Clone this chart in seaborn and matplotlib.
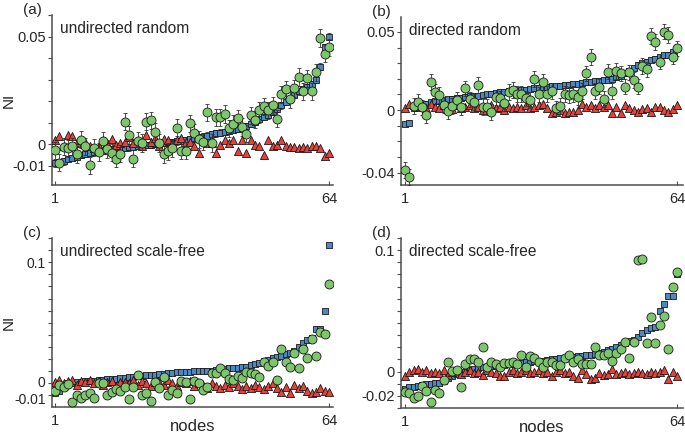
import numpy as np
import pandas as pd
import matplotlib
matplotlib.use("Agg")
import matplotlib.pyplot as plt
import matplotlib.transforms as mtransforms
from matplotlib.ticker import MultipleLocator
import seaborn as sns

sns.set_style("ticks")
plt.rcParams['font.family'] = ['Liberation Sans', 'DejaVu Sans']

nodes = list(range(1, 65))

# (a) undirected random
blue_a = [-0.009, -0.0085, -0.008, -0.007, -0.0065, -0.006, -0.005, -0.0045, -0.004, -0.0035,
          -0.003, -0.003, -0.0025, -0.0025, -0.002, -0.002, -0.0018, -0.0015, -0.0012, -0.001,
          -0.0008, -0.0005, -0.0003, 0.0, 0.0002, 0.0005, 0.0008, 0.001, 0.0013, 0.0016,
          0.002, 0.0023, 0.0027, 0.003, 0.0035, 0.004, 0.0045, 0.005, 0.0053, 0.0057,
          0.006, 0.0065, 0.007, 0.0077, 0.0085, 0.0095, 0.0105, 0.0115, 0.0125, 0.0135,
          0.015, 0.0165, 0.018, 0.0195, 0.021, 0.023, 0.0245, 0.0255, 0.0265, 0.028,
          0.030, 0.036, 0.045, 0.050]
green_a = [-0.0028, -0.0087, -0.0012, -0.002, -0.001, -0.0047, 0.002, -0.001, -0.0098, -0.0017,
           -0.0037, 0.0015, -0.0023, -0.004, -0.0068, -0.0045, 0.0104, 0.0042, -0.0068, 0.0015,
           0.0005, 0.0104, 0.011, 0.0057, 0.0005, -0.0047, -0.0033, -0.002, 0.0076, -0.003,
           -0.003, 0.0096, 0.0053, 0.0022, 0.0012, 0.0148, 0.0005, 0.0125, 0.0125, 0.014,
           0.0073, 0.0093, 0.012, 0.008, 0.0048, 0.0133, 0.0114, 0.0157, 0.0176, 0.0157,
           0.018, 0.0118, 0.0232, 0.0255, 0.021, 0.026, 0.0312, 0.0245, 0.0305, 0.0245,
           0.0333, 0.0493, 0.042, 0.045]
red_a = [0.002, 0.0039, -0.0011, 0.0044, 0.0036, 0.0005, 0.002, 0.0012, -0.0011, -0.0019,
         -0.0011, 0.002, 0.0005, 0.0023, -0.0003, 0.0005, 0.0012, 0.0033, 0.0005, 0.002,
         -0.0011, 0.0044, 0.0012, 0.0028, -0.0011, 0.0023, 0.002, 0.0005, 0.002, 0.0028,
         0.0012, 0.0012, -0.0011, -0.0042, 0.002, 0.0005, 0.0005, -0.0039, -0.0003, 0.002,
         0.0005, 0.002, -0.003, 0.002, -0.0042, 0.002, -0.0003, -0.0011, -0.005, 0.002,
         -0.0011, -0.0003, 0.002, -0.0011, -0.0014, -0.0014, -0.0019, -0.0014, -0.0019, -0.0011,
         -0.0011, -0.0019, -0.0055, -0.0042]

# (b) directed random
blue_b = [-0.009, -0.008, 0.001, 0.002, 0.003, 0.004, 0.005, 0.0055, 0.006, 0.0065,
          0.007, 0.0072, 0.0076, 0.008, 0.0085, 0.0088, 0.009, 0.0093, 0.0097, 0.01,
          0.0104, 0.011, 0.0113, 0.0116, 0.012, 0.0122, 0.0125, 0.0128, 0.013, 0.0135,
          0.014, 0.0143, 0.0146, 0.015, 0.0152, 0.0155, 0.0157, 0.016, 0.0163, 0.0166,
          0.017, 0.0173, 0.0177, 0.018, 0.0183, 0.0187, 0.019, 0.0195, 0.02, 0.021,
          0.022, 0.0235, 0.025, 0.027, 0.029, 0.030, 0.031, 0.032, 0.033, 0.034,
          0.035, 0.0355, 0.037, 0.040]
green_b = [-0.0385, -0.0427, 0.0026, 0.0053, 0.0017, -0.0032, 0.018, 0.0118, 0.0096, 0.0032,
           -0.0006, 0.0026, 0.0064, 0.0021, 0.0139, 0.0068, 0.0053, 0.016, 0.0021, 0.0021,
           -0.0011, 0.0081, 0.0075, 0.0047, 0.0115, 0.0128, 0.0103, 0.0103, 0.0075, 0.0064,
           0.0197, 0.01, 0.018, 0.0103, 0.0124, 0.0011, 0.0026, 0.0103, 0.0096, 0.0103,
           0.0081, 0.0124, 0.0235, 0.0338, 0.0124, 0.015, 0.007, 0.0246, 0.0124, 0.025,
           0.0235, 0.015, 0.0241, 0.0192, 0.015, 0.0282, 0.026, 0.0474, 0.0434, 0.031,
           0.0502, 0.048, 0.0342, 0.0395]
red_b = [0.001, 0.004, 0.003, 0.002, 0.003, 0.001, 0.004, 0.002, 0.001, 0.003,
         0.002, 0.0005, 0.003, 0.001, 0.002, 0.003, 0.001, 0.002, 0.0, 0.002,
         0.003, 0.001, 0.002, 0.0, 0.002, 0.001, 0.002, 0.001, 0.003, 0.0015,
         0.002, 0.003, 0.004, 0.001, -0.002, -0.001, 0.0, -0.002, -0.001, -0.0015,
         0.0, 0.004, 0.002, 0.003, 0.001, 0.003, 0.002, 0.003, -0.002, 0.002,
         -0.002, 0.0035, 0.001, 0.0, -0.001, 0.0005, 0.001, -0.001, 0.002, 0.002,
         0.0, -0.001, 0.0005, 0.003]

# (c) undirected scale-free
blue_c = [-0.008, -0.006, -0.003, 0.0, 0.0005, 0.001, 0.0013, 0.0016, 0.002, 0.0023,
          0.0027, 0.003, 0.0033, 0.0036, 0.004, 0.0043, 0.0047, 0.005, 0.0055, 0.006,
          0.0063, 0.0067, 0.007, 0.0073, 0.0077, 0.008, 0.0083, 0.0087, 0.009, 0.0095,
          0.0097, 0.0098, 0.0099, 0.01, 0.0101, 0.0102, 0.0105, 0.011, 0.0115, 0.012,
          0.0124, 0.0128, 0.013, 0.0133, 0.0138, 0.015, 0.0157, 0.017, 0.0185, 0.0196,
          0.021, 0.022, 0.023, 0.024, 0.025, 0.027, 0.0304, 0.033, 0.0355, 0.0373,
          0.0445, 0.045, 0.060, 0.1146]
green_c = [-0.006, -0.0014, -0.0028, -0.0008, -0.0152, -0.0097, -0.0124, -0.0097, -0.0083, -0.0124,
           0.0, 0.0006, -0.0097, -0.0069, -0.005, -0.006, -0.0028, -0.0133, -0.0028, 0.0069,
           -0.0097, -0.0083, -0.0144, 0.0014, -0.0041, 0.005, -0.0097, -0.0055, -0.0083, 0.0022,
           0.0014, -0.0133, 0.0022, 0.0, -0.0055, -0.0028, 0.0088, 0.0083, 0.0124, 0.0083,
           0.0033, 0.0028, 0.0061, 0.0041, 0.0097, 0.0083, 0.0077, 0.0055, 0.018, 0.0144,
           0.018, 0.0028, 0.0284, 0.018, 0.0138, 0.0254, 0.0124, 0.0284, 0.0207, 0.0365,
           0.0226, 0.0428, 0.0409, 0.082]
red_c = [0.001, 0.003, 0.0005, 0.002, 0.003, -0.001, 0.002, 0.001, 0.003, 0.0,
         0.002, -0.001, 0.001, 0.002, -0.002, 0.0015, 0.001, 0.0, 0.003, -0.001,
         0.002, 0.0, -0.002, 0.001, 0.0015, -0.001, 0.003, 0.0, -0.002, 0.001,
         0.0, 0.002, -0.002, 0.0, -0.001, -0.004, 0.0, -0.002, -0.004, -0.001,
         -0.003, 0.0, -0.002, -0.005, -0.002, -0.004, -0.001, -0.003, -0.005, -0.002,
         0.0, -0.004, -0.007, -0.003, -0.008, -0.001, -0.004, -0.002, -0.006, -0.008,
         -0.007, -0.004, -0.006, -0.007]

# (d) directed scale-free
blue_d = [-0.0145, -0.013, -0.0125, -0.012, -0.011, -0.0103, -0.010, -0.0098, -0.0095, -0.0075,
          -0.005, -0.0034, -0.002, -0.0014, -0.0005, 0.001, 0.002, 0.0028, 0.0036, 0.004,
          0.0043, 0.0048, 0.005, 0.0055, 0.006, 0.0064, 0.0068, 0.0072, 0.0075, 0.0078,
          0.0083, 0.0086, 0.009, 0.0095, 0.01, 0.0105, 0.011, 0.0115, 0.012, 0.0123,
          0.0125, 0.013, 0.0134, 0.014, 0.0145, 0.0152, 0.016, 0.0175, 0.019, 0.0205,
          0.022, 0.0232, 0.025, 0.026, 0.0288, 0.0316, 0.034, 0.036, 0.037, 0.0497,
          0.0553, 0.0623, 0.0623, 0.080]
green_d = [-0.0168, -0.018, -0.0215, -0.020, -0.0117, -0.016, -0.0249, -0.015, -0.0179, -0.0067,
           0.0078, 0.0008, 0.0014, -0.0126, 0.0064, 0.01, 0.01, 0.0078, 0.0201, 0.0036,
           0.0078, 0.0064, 0.0036, 0.0073, 0.0073, 0.0078, 0.0064, 0.0134, 0.0036, 0.0128,
           0.0112, 0.0078, 0.0036, 0.0078, 0.0078, 0.0056, 0.0056, 0.0112, 0.0134, 0.0078,
           0.01, 0.0064, 0.0064, 0.0064, 0.0204, 0.0134, 0.014, 0.0156, 0.0084, 0.0156,
           0.019, 0.0246, 0.0112, 0.0246, 0.0916, 0.093, 0.0232, 0.0447, 0.0232, 0.038,
           0.0455, 0.019, 0.0698, 0.0824]
red_d = [-0.004, 0.0, 0.001, 0.002, 0.0, 0.001, -0.001, 0.0, -0.001, 0.001,
         -0.003, 0.0, 0.001, -0.002, 0.0, 0.001, -0.001, 0.0, -0.003, 0.001,
         0.0, -0.001, -0.004, -0.004, 0.0, 0.001, -0.001, 0.0, 0.001, -0.001,
         0.0, 0.001, -0.001, 0.0, -0.004, 0.0, 0.001, -0.001, 0.0, -0.004,
         -0.005, 0.001, -0.002, -0.006, -0.005, -0.001, -0.003, -0.002, 0.002, -0.002,
         -0.001, 0.0, -0.002, -0.001, 0.0, -0.001, -0.002, 0.0, -0.001, 0.0,
         0.001, -0.006, 0.0, -0.004]

# error bar sizes for the green / blue series
green_err = [0.004, 0.005, 0.003, 0.001]
blue_err = [0.0015, 0.0015, 0.0, 0.0]

BLUE = '#4f87c0'
GREEN = '#7dc66b'
RED = '#e8403b'
EDGE = '#1a1a1a'

panels = [
    ("(a)", "undirected random", blue_a, green_a, red_a,
     [52, 15, 333, 185], (0.3, 64.9), (-0.019, 0.060), [-0.01, 0, 0.05], ["-0.01", "0", "0.05"]),
    ("(b)", "directed random", blue_b, green_b, red_b,
     [401, 17, 683, 185], (0.1, 65.4), (-0.048, 0.0596), [-0.04, 0, 0.05], ["-0.04", "0", "0.05"]),
    ("(c)", "undirected scale-free", blue_c, green_c, red_c,
     [52, 238, 333, 407], (0.3, 64.9), (-0.0195, 0.120), [-0.01, 0, 0.1], ["-0.01", "0", "0.1"]),
    ("(d)", "directed scale-free", blue_d, green_d, red_d,
     [401, 238, 683, 408], (0.1, 65.4), (-0.030, 0.110), [-0.02, 0, 0.1], ["-0.02", "0", "0.1"]),
]

W, H = 685, 437
fig = plt.figure(figsize=(W / 100, H / 100), dpi=100)

for i, (tag, title, blue, green, red, box, xl, yl, yt, ytl) in enumerate(panels):
    l, t, r, b = box
    ax = fig.add_axes([l / W, 1 - b / H, (r - l) / W, (b - t) / H])
    df = pd.DataFrame({"node": nodes, "blue": blue, "green": green, "red": red})

    if blue_err[i] > 0:
        ax.errorbar(df["node"], df["blue"], yerr=blue_err[i], fmt='none', ecolor='#333333',
                    elinewidth=0.6, capsize=1.6, capthick=0.6, zorder=2)
    sns.scatterplot(data=df, x="node", y="blue", marker='s', s=19, color=BLUE,
                    edgecolor=EDGE, linewidth=0.6, zorder=3, ax=ax)
    sns.scatterplot(data=df, x="node", y="red", marker='^', s=34, color=RED,
                    edgecolor=EDGE, linewidth=0.6, zorder=4, ax=ax)
    ax.errorbar(df["node"], df["green"], yerr=green_err[i], fmt='none', ecolor='#333333',
                elinewidth=0.6, capsize=1.6, capthick=0.6, zorder=4.5)
    sns.scatterplot(data=df, x="node", y="green", marker='o', s=42, color=GREEN,
                    edgecolor=EDGE, linewidth=0.6, zorder=5, ax=ax)

    ax.set_xlim(*xl)
    ax.set_ylim(*yl)
    ax.set_xticks([1, 64])
    ax.set_xticklabels(["1", "64"], fontsize=10.5)
    ax.set_yticks(yt)
    ax.set_yticklabels(ytl, fontsize=10.5 if i != 2 else 10)
    ax.yaxis.set_minor_locator(MultipleLocator(0.01))
    ax.tick_params(axis='y', which='both', direction='out', length=3, width=0.8,
                   color='#4d4d4d', pad=1.5)
    ax.tick_params(axis='x', which='both', direction='in', length=3, width=0.8,
                   color='#4d4d4d', pad=5)
    sns.despine(ax=ax)
    for s in ['left', 'bottom']:
        ax.spines[s].set_color('#4d4d4d')
        ax.spines[s].set_linewidth(1.1)

    # (c): "0" and "-0.01" sit close together, nudge them apart a little
    if i == 2:
        labs = ax.get_yticklabels()
        labs[0].set_transform(labs[0].get_transform() +
                              mtransforms.ScaledTranslation(0, -2.5 / 72, fig.dpi_scale_trans))
        labs[1].set_transform(labs[1].get_transform() +
                              mtransforms.ScaledTranslation(0, 1.5 / 72, fig.dpi_scale_trans))

    ax.set_xlabel("")
    ax.set_ylabel("")
    if i in (0, 2):
        ax.set_ylabel("NI", fontsize=11)
        ax.yaxis.set_label_coords(-0.13, 0.5)
    if i in (2, 3):
        ax.set_xlabel("nodes", fontsize=12)
        ax.xaxis.set_label_coords(0.5, -0.07)

    ax.text(0.028, 0.965, title, transform=ax.transAxes, ha='left', va='top', fontsize=11.2)
    fig.text((l - 20) / W, 1 - (t - 5) / H, tag, ha='center', va='center', fontsize=11)

fig.savefig("out.png", dpi=100)
